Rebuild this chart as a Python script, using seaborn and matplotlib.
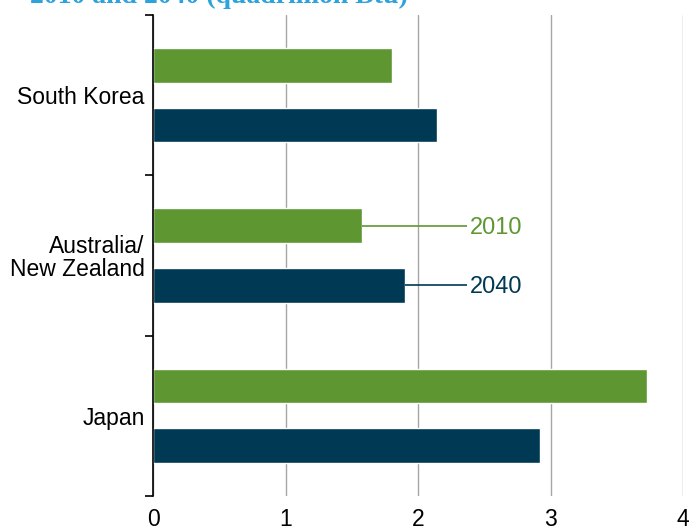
import pandas as pd
import seaborn as sns
import matplotlib.pyplot as plt

# values (quadrillion Btu)
regions = ['South Korea', 'Australia/\nNew Zealand', 'Japan']
years = ['2010', '2040']
values_2010 = [1.80, 1.58, 3.73]
values_2040 = [2.14, 1.90, 2.92]
x_ticks = [0, 1, 2, 3, 4]

green = '#5e9732'
navy = '#003953'

df = pd.DataFrame({
    'region': regions * 2,
    'year': [years[0]] * 3 + [years[1]] * 3,
    'value': values_2010 + values_2040,
})

sns.set_style('white')
plt.rcParams['font.family'] = ['Liberation Sans', 'DejaVu Sans']

fig = plt.figure(figsize=(6.89, 5.31), dpi=100)
ax = fig.add_axes([153 / 689, 35 / 531, 530 / 689, 481 / 531])

sns.barplot(data=df, y='region', x='value', hue='year', order=regions,
            hue_order=years, palette=[green, navy], orient='h',
            width=0.745, gap=0.416, saturation=1, legend=False, ax=ax)

ax.set_xlim(0, 4)
ax.set_ylim(2.5, -0.5)
ax.set_xticks(x_ticks)
ax.set_xticklabels([str(t) for t in x_ticks], fontsize=16.5, color='black')
ax.set_yticks([-0.5, 0.5, 1.5, 2.5], minor=False)
ax.set_yticklabels([])
ax.set_yticks([0, 1, 2], minor=True)
ax.set_yticklabels(regions, minor=True, fontsize=16.5, color='black',
                   linespacing=1.0)
ax.tick_params(axis='y', which='minor', left=False, length=0, pad=6)
ax.tick_params(axis='y', which='major', left=True, length=6, width=1.2,
               color='black', direction='out')
ax.tick_params(axis='x', length=0, pad=9)
ax.set_xlabel('')
ax.set_ylabel('')
ax.set_axisbelow(True)
ax.grid(axis='x', color='#a6a6a6', linewidth=1)
ax.grid(axis='y', visible=False)
for side in ['top', 'right', 'bottom']:
    ax.spines[side].set_visible(False)
ax.spines['left'].set_color('black')
ax.spines['left'].set_linewidth(1.2)

# inline series labels next to the Australia/New Zealand bars
off = 0.745 / 4
label_x = 2.37
for yr, val, y, col in [(years[0], values_2010[1], 1 - off, green),
                        (years[1], values_2040[1], 1 + off, navy)]:
    ax.hlines(y, val, label_x, color=col, lw=1.2)
    ax.text(label_x + 0.02, y + 0.012, yr, color=col, fontsize=17,
            va='center', ha='left')

# title clipped at the top edge, as in the source image
fig.text(0.043, 1 - 3 / 531, '2010 and 2040 (quadrillion Btu)',
         color='#2ea3db', fontsize=20, fontweight='bold',
         family=['Liberation Serif', 'DejaVu Serif'], va='baseline')

fig.savefig('out.png', dpi=100)
